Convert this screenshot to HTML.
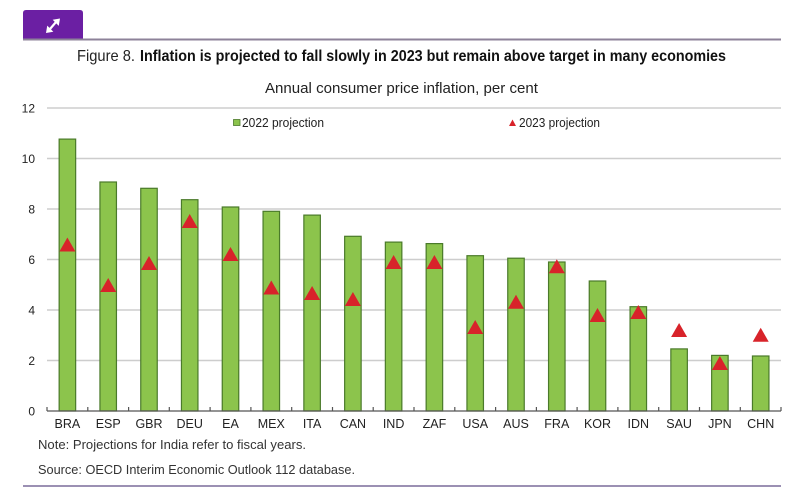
<!DOCTYPE html>
<html>
<head>
<meta charset="utf-8">
<style>
  html,body{margin:0;padding:0;background:#fff;}
  svg{display:block;}
  text{font-family:"Liberation Sans",sans-serif;}
</style>
</head>
<body>
<svg width="800" height="500" viewBox="0 0 800 500" xmlns="http://www.w3.org/2000/svg">
  <!-- header tab -->
  <path d="M23,40 L23,13 Q23,10 26,10 L80,10 Q83,10 83,13 L83,40 Z" fill="#6b1fa3"/>
  <line x1="23" y1="39.5" x2="781" y2="39.5" stroke="#8d8299" stroke-width="2"/>
  <!-- icon -->
  <g stroke="#fff" stroke-width="2.2" fill="#fff" stroke-linecap="round">
    <line x1="50" y1="29" x2="56" y2="22"/>
    <path d="M46.5,32.5 L47.5,26.5 L52.5,31.5 Z" stroke-width="0.8"/>
    <path d="M59.5,19 L58.5,25 L53.5,20 Z" stroke-width="0.8"/>
  </g>

  <!-- titles -->
  <text x="77" y="61" font-size="16" fill="#222" textLength="58" lengthAdjust="spacingAndGlyphs">Figure 8.</text>
  <text x="140" y="61" font-size="16" font-weight="bold" fill="#111" textLength="586" lengthAdjust="spacingAndGlyphs">Inflation is projected to fall slowly in 2023 but remain above target in many economies</text>
  <text x="265" y="93" font-size="15" fill="#222" textLength="273" lengthAdjust="spacingAndGlyphs">Annual consumer price inflation, per cent</text>

  <!-- gridlines -->
  <g stroke="#cdcdcd" stroke-width="1.5">
    <line x1="47" y1="108" x2="781" y2="108"/>
    <line x1="47" y1="158.5" x2="781" y2="158.5"/>
    <line x1="47" y1="209" x2="781" y2="209"/>
    <line x1="47" y1="259.5" x2="781" y2="259.5"/>
    <line x1="47" y1="310" x2="781" y2="310"/>
    <line x1="47" y1="360.5" x2="781" y2="360.5"/>
  </g>

  <!-- y labels -->
  <g font-size="12" fill="#222" text-anchor="end">
    <text x="35" y="112.5">12</text>
    <text x="35" y="163">10</text>
    <text x="35" y="213.5">8</text>
    <text x="35" y="264">6</text>
    <text x="35" y="314.5">4</text>
    <text x="35" y="365">2</text>
    <text x="35" y="415.5">0</text>
  </g>

  <!-- legend -->
  <rect x="233.5" y="119.5" width="6.5" height="6" fill="#8cc44c" stroke="#4d7a2c" stroke-width="0.8"/>
  <text x="242" y="127" font-size="12.5" fill="#222" textLength="82" lengthAdjust="spacingAndGlyphs">2022 projection</text>
  <path d="M509,126 L516,126 L512.5,119.5 Z" fill="#d8232a"/>
  <text x="519" y="127" font-size="12.5" fill="#222" textLength="81" lengthAdjust="spacingAndGlyphs">2023 projection</text>

  <!-- bars -->
  <g fill="#8cc44c" stroke="#4a7a2a" stroke-width="1.2">
    <rect x="59.15" y="139.1" width="16.5" height="271.9"/>
    <rect x="99.95" y="182.0" width="16.5" height="229.0"/>
    <rect x="140.75" y="188.3" width="16.5" height="222.7"/>
    <rect x="181.45" y="199.7" width="16.5" height="211.3"/>
    <rect x="222.25" y="207.0" width="16.5" height="204.0"/>
    <rect x="263.05" y="211.3" width="16.5" height="199.7"/>
    <rect x="303.85" y="215.1" width="16.5" height="195.9"/>
    <rect x="344.65" y="236.3" width="16.5" height="174.7"/>
    <rect x="385.35" y="242.1" width="16.5" height="168.9"/>
    <rect x="426.15" y="243.6" width="16.5" height="167.4"/>
    <rect x="466.95" y="255.7" width="16.5" height="155.3"/>
    <rect x="507.75" y="258.2" width="16.5" height="152.8"/>
    <rect x="548.55" y="262.0" width="16.5" height="149.0"/>
    <rect x="589.25" y="281.0" width="16.5" height="130.0"/>
    <rect x="630.05" y="306.7" width="16.5" height="104.3"/>
    <rect x="670.85" y="348.9" width="16.5" height="62.1"/>
    <rect x="711.65" y="355.4" width="16.5" height="55.6"/>
    <rect x="752.45" y="356.0" width="16.5" height="55.0"/>
  </g>

  <!-- triangles -->
  <g fill="#d8232a">
    <path transform="translate(67.4,244.5)" d="M-8,7 L8,7 L0,-7 Z"/>
    <path transform="translate(108.2,285)" d="M-8,7 L8,7 L0,-7 Z"/>
    <path transform="translate(149.0,263)" d="M-8,7 L8,7 L0,-7 Z"/>
    <path transform="translate(189.7,221)" d="M-8,7 L8,7 L0,-7 Z"/>
    <path transform="translate(230.5,254)" d="M-8,7 L8,7 L0,-7 Z"/>
    <path transform="translate(271.3,287.5)" d="M-8,7 L8,7 L0,-7 Z"/>
    <path transform="translate(312.1,293)" d="M-8,7 L8,7 L0,-7 Z"/>
    <path transform="translate(352.9,299)" d="M-8,7 L8,7 L0,-7 Z"/>
    <path transform="translate(393.6,262)" d="M-8,7 L8,7 L0,-7 Z"/>
    <path transform="translate(434.4,262)" d="M-8,7 L8,7 L0,-7 Z"/>
    <path transform="translate(475.2,327)" d="M-8,7 L8,7 L0,-7 Z"/>
    <path transform="translate(516.0,301.7)" d="M-8,7 L8,7 L0,-7 Z"/>
    <path transform="translate(556.8,266.3)" d="M-8,7 L8,7 L0,-7 Z"/>
    <path transform="translate(597.5,315)" d="M-8,7 L8,7 L0,-7 Z"/>
    <path transform="translate(638.3,312)" d="M-8,7 L8,7 L0,-7 Z"/>
    <path transform="translate(679.1,330)" d="M-8,7 L8,7 L0,-7 Z"/>
    <path transform="translate(719.9,363)" d="M-8,7 L8,7 L0,-7 Z"/>
    <path transform="translate(760.7,334.7)" d="M-8,7 L8,7 L0,-7 Z"/>
  </g>

  <!-- x axis -->
  <line x1="47" y1="411" x2="781" y2="411" stroke="#555" stroke-width="1.3"/>
  <g stroke="#555" stroke-width="1.2">
    <line x1="47" y1="407" x2="47" y2="411"/>
    <line x1="87.8" y1="407" x2="87.8" y2="411"/>
    <line x1="128.6" y1="407" x2="128.6" y2="411"/>
    <line x1="169.3" y1="407" x2="169.3" y2="411"/>
    <line x1="210.1" y1="407" x2="210.1" y2="411"/>
    <line x1="250.9" y1="407" x2="250.9" y2="411"/>
    <line x1="291.7" y1="407" x2="291.7" y2="411"/>
    <line x1="332.5" y1="407" x2="332.5" y2="411"/>
    <line x1="373.2" y1="407" x2="373.2" y2="411"/>
    <line x1="414.0" y1="407" x2="414.0" y2="411"/>
    <line x1="454.8" y1="407" x2="454.8" y2="411"/>
    <line x1="495.6" y1="407" x2="495.6" y2="411"/>
    <line x1="536.4" y1="407" x2="536.4" y2="411"/>
    <line x1="577.1" y1="407" x2="577.1" y2="411"/>
    <line x1="617.9" y1="407" x2="617.9" y2="411"/>
    <line x1="658.7" y1="407" x2="658.7" y2="411"/>
    <line x1="699.5" y1="407" x2="699.5" y2="411"/>
    <line x1="740.3" y1="407" x2="740.3" y2="411"/>
    <line x1="781" y1="407" x2="781" y2="411"/>
  </g>

  <!-- x labels -->
  <g font-size="12.5" fill="#222" text-anchor="middle">
    <text x="67.4" y="428">BRA</text>
    <text x="108.2" y="428">ESP</text>
    <text x="149.0" y="428">GBR</text>
    <text x="189.7" y="428">DEU</text>
    <text x="230.5" y="428">EA</text>
    <text x="271.3" y="428">MEX</text>
    <text x="312.1" y="428">ITA</text>
    <text x="352.9" y="428">CAN</text>
    <text x="393.6" y="428">IND</text>
    <text x="434.4" y="428">ZAF</text>
    <text x="475.2" y="428">USA</text>
    <text x="516.0" y="428">AUS</text>
    <text x="556.8" y="428">FRA</text>
    <text x="597.5" y="428">KOR</text>
    <text x="638.3" y="428">IDN</text>
    <text x="679.1" y="428">SAU</text>
    <text x="719.9" y="428">JPN</text>
    <text x="760.7" y="428">CHN</text>
  </g>

  <!-- notes -->
  <text x="38" y="449" font-size="13" fill="#333" textLength="268" lengthAdjust="spacingAndGlyphs">Note: Projections for India refer to fiscal years.</text>
  <text x="38" y="474" font-size="13" fill="#333" textLength="317" lengthAdjust="spacingAndGlyphs">Source: OECD Interim Economic Outlook 112 database.</text>

  <line x1="23" y1="486" x2="781" y2="486" stroke="#7a6b9a" stroke-width="1.5"/>
</svg>
</body>
</html>
